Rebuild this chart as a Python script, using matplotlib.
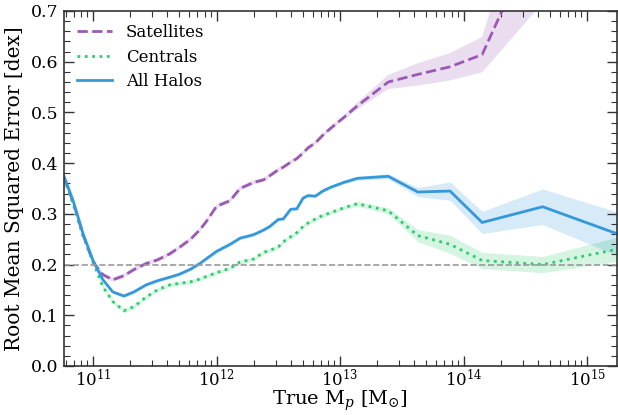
import numpy as np
import matplotlib
matplotlib.use("Agg")
import matplotlib.pyplot as plt
from matplotlib.ticker import MultipleLocator, LogLocator, NullFormatter

plt.rcParams["font.family"] = ["DejaVu Serif"]
plt.rcParams["mathtext.fontset"] = "dejavuserif"

# log10 of true halo mass at bin centres
log_mass = [10.765, 10.84, 10.92, 11.0, 11.08, 11.16, 11.25, 11.33, 11.43, 11.52,
            11.62, 11.70, 11.79, 11.87, 11.92, 12.0, 12.11, 12.19, 12.30, 12.38,
            12.43, 12.50, 12.54, 12.60, 12.65, 12.70, 12.74, 12.80, 12.86, 12.92,
            13.03, 13.14, 13.39, 13.63, 13.89, 14.15, 14.64, 15.24]

rmse_sat = [0.372, 0.322, 0.258, 0.205, 0.180, 0.170, 0.178, 0.190, 0.202, 0.209,
            0.221, 0.234, 0.250, 0.270, 0.286, 0.315, 0.326, 0.350, 0.362, 0.367,
            0.375, 0.387, 0.392, 0.402, 0.409, 0.420, 0.430, 0.440, 0.455, 0.468,
            0.490, 0.513, 0.560, 0.575, 0.590, 0.614, 0.876, 1.050]
err_sat = [0.004] * 31 + [0.007, 0.014, 0.022, 0.027, 0.035, 0.160, 0.250]

rmse_cen = [0.370, 0.318, 0.255, 0.205, 0.156, 0.127, 0.109, 0.117, 0.136, 0.150,
            0.160, 0.163, 0.166, 0.172, 0.177, 0.184, 0.193, 0.205, 0.211, 0.224,
            0.228, 0.235, 0.245, 0.255, 0.263, 0.275, 0.282, 0.290, 0.297, 0.302,
            0.312, 0.320, 0.306, 0.257, 0.240, 0.208, 0.200, 0.230]
err_cen = [0.004] * 31 + [0.005, 0.006, 0.012, 0.018, 0.016, 0.016, 0.024]

rmse_all = [0.374, 0.325, 0.260, 0.208, 0.170, 0.146, 0.138, 0.146, 0.160, 0.168,
            0.175, 0.181, 0.191, 0.203, 0.212, 0.226, 0.240, 0.252, 0.259, 0.268,
            0.275, 0.289, 0.290, 0.309, 0.310, 0.331, 0.336, 0.335, 0.345, 0.352,
            0.362, 0.370, 0.374, 0.343, 0.345, 0.283, 0.314, 0.261]
err_all = [0.003] * 31 + [0.004, 0.005, 0.009, 0.018, 0.022, 0.035, 0.043]

mass = 10 ** np.array(log_mass)

fig = plt.figure(figsize=(6.18, 4.15), dpi=100)
ax = fig.add_axes([0.1036, 0.1181, 0.8944, 0.8554])

series = [
    ("Satellites", rmse_sat, err_sat, "#9b59b6", "--"),
    ("Centrals", rmse_cen, err_cen, "#2ecc71", ":"),
    ("All Halos", rmse_all, err_all, "#3498db", "-"),
]
for label, y, e, color, ls in series:
    y = np.array(y)
    e = np.array(e)
    ax.fill_between(mass, y - e, y + e, color=color, alpha=0.2, lw=0)
    ax.plot(mass, y, ls=ls, color=color, lw=2, label=label)

ax.axhline(0.2, color="#999999", ls="--", lw=1.2)

ax.set_xscale("log")
ax.set_xlim(10 ** 10.765, 10 ** 15.24)
ax.set_ylim(0, 0.7)
ax.yaxis.set_major_locator(MultipleLocator(0.1))
ax.yaxis.set_minor_locator(MultipleLocator(0.02))
ax.xaxis.set_minor_locator(LogLocator(base=10, subs=np.arange(2, 10), numticks=20))
ax.xaxis.set_minor_formatter(NullFormatter())

ax.tick_params(which="both", direction="in", top=True, right=True, labelsize=12.5,
               color="#333333")
ax.tick_params(which="major", length=7, width=1.0, pad=4)
ax.tick_params(axis="x", which="major", labelsize=12, pad=2)
ax.tick_params(which="minor", length=4, width=0.8)
for sp in ax.spines.values():
    sp.set_color("#333333")
    sp.set_linewidth(1.2)

ax.set_xlabel(r"True M$_p$ [M$_{\odot}$]", fontsize=14, labelpad=-1)
ax.set_ylabel("Root Mean Squared Error [dex]", fontsize=14.5, labelpad=5)

ax.legend(loc="upper left", frameon=False, fontsize=12, handlelength=2.1,
          labelspacing=0.45, borderaxespad=0.4)

fig.savefig("out.png", dpi=100)
